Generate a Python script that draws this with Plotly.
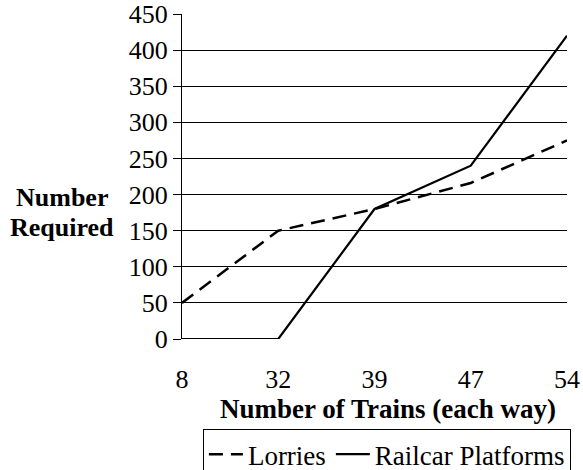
import plotly.graph_objects as go

trains = ["8", "32", "39", "47", "54"]
lorries = [50, 150, 180, 216, 275]
railcar_platforms = [0, 0, 180, 240, 420]
y_ticks = [0, 50, 100, 150, 200, 250, 300, 350, 400, 450]

FONT = "Liberation Serif"
SIZE = 26
TITLE_SIZE = 27

fig = go.Figure()
fig.add_trace(go.Scatter(
    x=trains, y=lorries, name="Lorries", mode="lines",
    line=dict(color="black", width=2.5, dash="14px,8px"),
))
fig.add_trace(go.Scatter(
    x=trains, y=railcar_platforms, name="Railcar Platforms", mode="lines",
    line=dict(color="black", width=2.2),
))

# x tick marks that cross the baseline
for t in trains:
    fig.add_shape(type="line", xref="x", yref="y", x0=t, x1=t, y0=-11, y1=11,
                  line=dict(color="black", width=1), layer="above")

# two-line y-axis title, plus the x-axis title
titles = [
    ("<b>Number</b>", -0.3117, 0.4369, 26),
    ("<b>Required</b>", -0.3117, 0.3446, 26),
    ("<b>Number of Trains (each way)</b>", 0.535, -0.215, TITLE_SIZE),
]
annotations = [
    dict(text=txt, xref="paper", yref="paper", x=xx, y=yy,
         showarrow=False, font=dict(family=FONT, size=fs),
         xanchor="center", yanchor="middle", borderpad=0)
    for txt, xx, yy, fs in titles
]

fig.update_layout(
    width=583, height=470,
    margin=dict(l=182, r=16, t=14, b=131, autoexpand=False),
    paper_bgcolor="white", plot_bgcolor="white",
    font=dict(family=FONT, size=SIZE, color="black"),
    showlegend=True,
    legend=dict(
        orientation="h", xref="container", yref="container",
        x=0.348, y=0.087, xanchor="left", yanchor="top",
        bordercolor="black", borderwidth=1,
        font=dict(family=FONT, size=TITLE_SIZE),
        itemwidth=34, tracegroupgap=0,
    ),
    xaxis=dict(
        type="category", range=[0, 4], showgrid=False, zeroline=False,
        showline=False, ticks="", tickfont=dict(family=FONT, size=SIZE),
        ticklabelstandoff=22,
    ),
    yaxis=dict(
        range=[0, 450], tickvals=y_ticks, showgrid=True, gridcolor="black",
        gridwidth=1, zeroline=False, showline=True, linecolor="black",
        linewidth=1, ticks="outside", ticklen=8, tickcolor="black",
        tickfont=dict(family=FONT, size=SIZE),
    ),
    annotations=annotations,
)

fig.write_html("out.html")
